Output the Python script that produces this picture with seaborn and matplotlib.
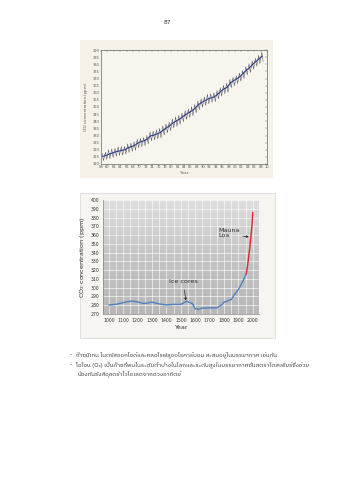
import numpy as np
import pandas as pd
import matplotlib
matplotlib.use("Agg")
import matplotlib.pyplot as plt
from matplotlib.patches import Rectangle
from matplotlib import font_manager
import seaborn as sns

# ---- Mauna Loa record (annual means, May peaks, autumn lows) ----
ml_years = list(range(1958, 2009))
ml_mean = [315.3, 316.0, 316.9, 317.6, 318.5, 319.0, 319.6, 320.0, 321.4, 322.2,
           323.0, 324.6, 325.7, 326.3, 327.5, 329.7, 330.2, 331.1, 332.0, 333.8,
           335.4, 336.8, 338.7, 340.1, 341.4, 343.0, 344.6, 346.0, 347.4, 349.2,
           351.6, 353.1, 354.4, 355.6, 356.5, 357.1, 358.9, 360.9, 362.7, 363.8,
           366.8, 368.5, 369.7, 371.3, 373.5, 375.8, 377.5, 379.8, 381.9, 383.8,
           385.6]
ml_peak = [317.5, 318.3, 320.0, 320.6, 321.0, 322.1, 322.2, 322.3, 324.1, 324.6,
           325.6, 327.4, 328.1, 328.6, 330.0, 332.5, 333.1, 333.9, 334.9, 336.7,
           338.0, 339.4, 341.5, 343.1, 344.1, 345.7, 347.4, 348.6, 350.2, 351.8,
           354.2, 355.7, 357.0, 358.9, 359.4, 360.0, 361.6, 363.6, 365.2, 366.6,
           369.3, 370.9, 371.8, 373.8, 375.6, 378.3, 380.4, 382.3, 384.1, 386.3,
           388.5]
ml_low = [312.4, 313.3, 313.8, 314.6, 315.4, 316.0, 316.2, 317.0, 318.1, 318.9,
          319.7, 321.3, 322.2, 322.9, 324.2, 326.3, 326.9, 327.6, 328.4, 330.4,
          331.9, 333.4, 335.4, 336.4, 337.9, 339.7, 341.3, 342.7, 343.9, 345.9,
          348.3, 349.9, 351.1, 352.3, 353.3, 353.8, 355.7, 357.7, 359.4, 360.3,
          363.6, 365.0, 366.5, 368.2, 370.0, 372.6, 374.2, 376.6, 378.7, 380.5,
          382.0]
top_xticks = list(range(1958, 2011, 2))
top_yticks = list(range(310, 391, 5))

# ---- Ice-core and Mauna Loa over the last millennium ----
ice_years = [1000, 1050, 1100, 1150, 1175, 1200, 1250, 1300, 1350, 1400, 1450,
             1500, 1540, 1580, 1600, 1620, 1650, 1700, 1750, 1780, 1800, 1850,
             1870, 1900, 1930, 1955]
ice_co2 = [280.2, 281.0, 283.0, 284.5, 284.5, 283.6, 282.0, 283.5, 281.5, 280.3,
           281.0, 281.0, 284.5, 282.0, 276.0, 275.3, 276.8, 277.0, 277.0, 280.0,
           283.5, 286.5, 291.5, 298.0, 307.0, 316.0]
loa_years = [1955, 1965, 1975, 1985, 1995, 2000]
loa_co2 = [316.0, 327.0, 340.0, 355.0, 372.0, 386.0]
bot_xticks = list(range(1000, 2001, 100))
bot_yticks = list(range(270, 401, 10))

page_number = "87"
thai_lines = [
    "ก๊าซมีเทน ไนตรัสออกไซด์และคลอโรฟลูออโรคาร์บอน สะสมอยู่ในบรรยากาศ เช่นกัน",
    "โอโซน (O₃) เป็นก๊าซที่พบในระดับต่ำบ้างในโลกและระดับสูงในบรรยากาศชั้นสตราโตสเฟียร์ซึ่งช่วย",
    "ป้องกันรังสีอุลตร้าไวโอเลตจากดวงอาทิตย์",
]

sns.set_theme(style="white")
plt.rcParams["font.family"] = ["DejaVu Sans"]


def find_thai_family():
    try:
        from fontTools.ttLib import TTFont
    except Exception:
        return None
    found = []
    for fe in font_manager.fontManager.ttflist:
        try:
            f = TTFont(fe.fname, fontNumber=0, lazy=True)
            cmap = f.getBestCmap() or {}
            if 0x0E01 in cmap and 0x0E40 in cmap:
                found.append(fe.name)
        except Exception:
            continue
    if not found:
        return None
    for name in found:
        if "Sans" in name:
            return name
    return found[0]


thai_family = find_thai_family()
text_family = ([thai_family] if thai_family else []) + ["DejaVu Sans"]

W, H = 339, 480
fig = plt.figure(figsize=(W / 100, H / 100), dpi=100)
fig.patch.set_facecolor("white")


def rect(l, t, r, b):
    return [l / W, 1 - b / H, (r - l) / W, (b - t) / H]


# ---------------- Top panel: Keeling curve ----------------
fig.patches.append(Rectangle((80 / W, 1 - 178 / H), 193 / W, 138 / H,
                             transform=fig.transFigure, facecolor="#f6f2ea",
                             edgecolor="none", zorder=-5))
ax1 = fig.add_axes(rect(101, 50, 267, 164))
ax1.set_facecolor("#f8f5ef")

zx, zy = [], []
for yr, p, lo in zip(ml_years, ml_peak, ml_low):
    zx += [yr + 0.37, yr + 0.79]
    zy += [p, lo]
zig = pd.DataFrame({"year": zx, "co2": zy})
trend = pd.DataFrame({"year": [y + 0.5 for y in ml_years], "co2": ml_mean})

sns.lineplot(data=zig, x="year", y="co2", ax=ax1, color="#4a4a55", lw=0.35,
             estimator=None, sort=False)
sns.lineplot(data=trend, x="year", y="co2", ax=ax1, color="#2b3b86", lw=0.8,
             estimator=None)

ax1.set_xlim(1958, 2010)
ax1.set_ylim(310, 390)
ax1.set_xticks(top_xticks)
ax1.set_xticklabels([f"{t % 100:02d}" for t in top_xticks])
ax1.set_yticks(top_yticks)
ax1.set_xticks(np.arange(1958, 2010.1, 1), minor=True)
ax1.tick_params(axis="both", which="both", direction="in", top=True, right=True,
                labelsize=2.6, colors="#555555", length=1.6, width=0.3, pad=1)
ax1.tick_params(which="minor", length=1.0)
for s in ax1.spines.values():
    s.set_color("#666666")
    s.set_linewidth(0.5)
ax1.set_xlabel("Year", fontsize=2.8, color="#555555", labelpad=1.5)
ax1.set_ylabel("CO$_2$ concentration (ppm)", fontsize=2.8, color="#555555",
               labelpad=2)

# ---------------- Bottom panel: last 1000 years ----------------
fig.patches.append(Rectangle((80 / W, 1 - 338 / H), 195 / W, 145 / H,
                             transform=fig.transFigure, facecolor="#f7f5f1",
                             edgecolor="#dcdcdc", linewidth=0.6, zorder=-5))
ax2 = fig.add_axes(rect(103.5, 200, 259, 314))
grad = np.linspace(0, 1, 256).reshape(-1, 1)
cmap = matplotlib.colors.LinearSegmentedColormap.from_list(
    "bg", ["#dedede", "#c4c4c4", "#b8b8b8"])
ax2.imshow(grad, extent=[963, 2043, 270, 400], aspect="auto", cmap=cmap,
           zorder=0, origin="upper")
ax2.set_xlim(963, 2043)
ax2.set_ylim(270, 400)
ax2.set_xticks(bot_xticks)
ax2.set_yticks(bot_yticks)
ax2.set_xticks(np.arange(1000, 2001, 50), minor=True)
ax2.set_axisbelow(True)
ax2.grid(which="both", color="white", lw=0.45, alpha=0.9)
ax2.set_facecolor("#c8c8c8")

ice = pd.DataFrame({"year": ice_years, "co2": ice_co2})
loa = pd.DataFrame({"year": loa_years, "co2": loa_co2})
sns.lineplot(data=ice, x="year", y="co2", ax=ax2, color="#4f7fc0", lw=1.0,
             estimator=None, zorder=3)
sns.lineplot(data=loa, x="year", y="co2", ax=ax2, color="#d42a2a", lw=1.0,
             estimator=None, zorder=4)

ax2.tick_params(axis="both", which="major", labelsize=3.3, colors="#333333",
                length=1.5, width=0.4, pad=1.2)
ax2.tick_params(which="minor", length=0)
for name, s in ax2.spines.items():
    s.set_color("#888888")
    s.set_linewidth(0.5)
ax2.spines["top"].set_visible(False)
ax2.spines["right"].set_visible(False)
ax2.set_xlabel("Year", fontsize=4.6, color="#333333", labelpad=1.5)
ax2.set_ylabel("CO$_2$ concentration (ppm)", fontsize=4.6, color="#333333",
               labelpad=2.5)

ax2.annotate("Mauna\nLoa", xy=(1972, 358), xytext=(1760, 362),
             fontsize=4.6, color="#333333", ha="left", va="center",
             linespacing=1.0,
             arrowprops=dict(arrowstyle="-|>", color="#222222", lw=0.5,
                             mutation_scale=3, shrinkA=0, shrinkB=0,
                             relpos=(1.0, 0.25)))
ax2.annotate("Ice cores", xy=(1535, 285.5), xytext=(1517, 307),
             fontsize=4.6, color="#333333", ha="center", va="center",
             arrowprops=dict(arrowstyle="-|>", color="#222222", lw=0.5,
                             mutation_scale=3, shrinkA=2, shrinkB=0))

# ---------------- Page text ----------------
fig.text(167 / W, 1 - 23 / H, page_number, fontsize=4.2, color="#333333",
         ha="center", va="center")
line_y = [355, 364.5, 374]
for i, (txt, yy) in enumerate(zip(thai_lines, line_y)):
    if i < 2:
        fig.text(70 / W, 1 - yy / H, "-", fontsize=4.3, color="#333333",
                 ha="left", va="center")
        x0 = 76
    else:
        x0 = 77
    fig.text(x0 / W, 1 - yy / H, txt, fontsize=4.3, color="#333333",
             ha="left", va="center", family=text_family)

fig.savefig("out.png", dpi=100, facecolor="white")
